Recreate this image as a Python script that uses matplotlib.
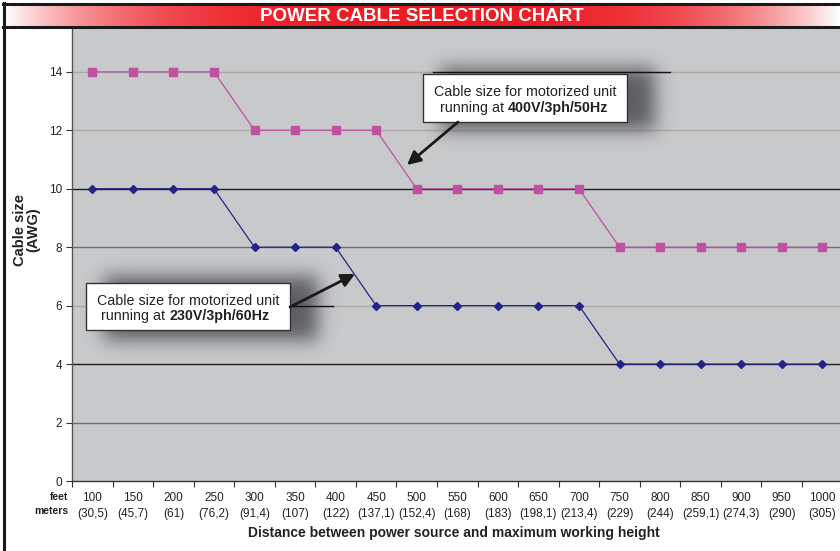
import numpy as np
import matplotlib
matplotlib.use('Agg')
import matplotlib.pyplot as plt
from matplotlib.patches import Rectangle

plt.rcParams['font.family'] = ['Liberation Sans', 'DejaVu Sans']

# ---------------- data ----------------
feet = ['100', '150', '200', '250', '300', '350', '400', '450', '500', '550',
        '600', '650', '700', '750', '800', '850', '900', '950', '1000']
meters = ['(30,5)', '(45,7)', '(61)', '(76,2)', '(91,4)', '(107)', '(122)', '(137,1)',
          '(152,4)', '(168)', '(183)', '(198,1)', '(213,4)', '(229)', '(244)', '(259,1)',
          '(274,3)', '(290)', '(305)']
awg_400v = [14, 14, 14, 14, 12, 12, 12, 12, 10, 10, 10, 10, 10, 8, 8, 8, 8, 8, 8]
awg_230v = [10, 10, 10, 10, 8, 8, 8, 6, 6, 6, 6, 6, 6, 4, 4, 4, 4, 4, 4]
y_ticks = [0, 2, 4, 6, 8, 10, 12, 14]
grid_levels = [2, 4, 6, 8, 10, 12, 14]
grid_colors = ['#6e6e6e', '#1e1e1e', '#a9a9a9', '#6e6e6e', '#1e1e1e', '#a9a9a9', '#a9a9a9']

title = 'POWER CABLE SELECTION CHART'
note_400 = ('Cable size for motorized unit', 'running at ', '400V/3ph/50Hz')
note_230 = ('Cable size for motorized unit', 'running at ', '230V/3ph/60Hz')

W, H = 840, 551
fig = plt.figure(figsize=(W / 100, H / 100), dpi=100)
fig.patch.set_facecolor('white')


def px(x0, y0, w, h):
    return [x0 / W, 1 - (y0 + h) / H, w / W, h / H]


# ---------------- main axes ----------------
ax = fig.add_axes(px(72, 28, 770.6, 453))
ax.set_facecolor('#C8C9CB')
x = np.arange(len(feet))
ax.set_xlim(-0.5, len(feet) - 0.5)
ax.set_ylim(0, 15.5)

for lvl, c in zip(grid_levels, grid_colors):
    ax.axhline(lvl, color=c, lw=1.0, zorder=1)

ax.plot(x, awg_400v, color='#C050A2', lw=0.9, marker='s', ms=5.2,
        mec='#C050A2', mfc='#C050A2', zorder=3)
ax.plot(x, awg_230v, color='#23238A', lw=0.9, marker='D', ms=3.8,
        mec='#23238A', mfc='#23238A', zorder=3)

for s in ['top', 'right']:
    ax.spines[s].set_visible(False)
ax.spines['left'].set_color('#555555')
ax.spines['bottom'].set_color('#333333')
ax.spines['left'].set_linewidth(1.0)
ax.spines['bottom'].set_linewidth(1.0)

ax.set_yticks(y_ticks)
ax.set_yticklabels([str(v) for v in y_ticks])
ax.tick_params(axis='y', direction='out', length=4, width=0.8, color='#333333',
               labelsize=8.5, labelcolor='#222222', pad=3)

ax.set_xticks(np.arange(-0.5, len(feet), 1.0))
ax.set_xticklabels([])
ax.tick_params(axis='x', which='major', direction='out', length=4, width=0.8, color='#333333')
ax.set_xticks(x, minor=True)
ax.set_xticklabels([f'{f}\n{m}' for f, m in zip(feet, meters)], minor=True)
ax.tick_params(axis='x', which='minor', length=0, labelsize=8.5, labelcolor='#222222', pad=8)
for lab in ax.get_xticklabels(minor=True):
    lab.set_linespacing(1.4)

fig.text(68 / W, 1 - 497 / H, 'feet', ha='right', va='center', fontsize=7.5,
         fontweight='bold', color='#222222')
fig.text(68 / W, 1 - 511 / H, 'meters', ha='right', va='center', fontsize=7.5,
         fontweight='bold', color='#222222')

fig.text(27 / W, 1 - 230 / H, 'Cable size\n(AWG)', rotation=90, ha='center', va='center',
         fontsize=10.5, fontweight='bold', color='#222222', linespacing=0.95)
fig.text(454 / W, 1 - 533 / H, 'Distance between power source and maximum working height',
         ha='center', va='center', fontsize=10, fontweight='bold', color='#222222')

# ---------------- title banner ----------------
bax = fig.add_axes(px(5, 5, 835, 22))
bax.axis('off')
t = np.linspace(-1, 1, 835)
f = np.clip(np.abs(t), 0, 1) ** 3.2
red = np.array([0.93, 0.11, 0.14])
white = np.array([1.0, 1.0, 1.0])
row = red[None, :] * (1 - f[:, None]) + white[None, :] * f[:, None]
bax.imshow(np.repeat(row[None, :, :], 2, axis=0), aspect='auto', extent=(0, 1, 0, 1))
fig.text(422 / W, 1 - 16.5 / H, title, ha='center', va='center', color='white',
         fontsize=13.5, fontweight='bold',
         family=['Liberation Sans Narrow', 'Liberation Sans', 'DejaVu Sans'])

# ---------------- overlay (shadows, notes, frame) ----------------
ov = fig.add_axes([0, 0, 1, 1], zorder=5)
ov.set_xlim(0, W)
ov.set_ylim(H, 0)
ov.axis('off')
ov.patch.set_alpha(0)

mask = np.zeros((H, W))
mask[68:130, 440:655] = 1.0
mask[276:340, 104:318] = 1.0
sig = 9
kx = np.arange(-3 * sig, 3 * sig + 1)
kern = np.exp(-0.5 * (kx / sig) ** 2)
kern /= kern.sum()
mask = np.apply_along_axis(lambda r: np.convolve(r, kern, mode='same'), 1, mask)
mask = np.apply_along_axis(lambda c: np.convolve(c, kern, mode='same'), 0, mask)
shadow = np.zeros((H, W, 4))
shadow[..., 0] = 0.26
shadow[..., 1] = 0.27
shadow[..., 2] = 0.29
shadow[..., 3] = np.clip(mask * 0.8, 0, 1)
ov.imshow(shadow, extent=(0, W, H, 0), interpolation='bilinear', zorder=1)

# dark gridline fragments
ov.plot([433, 670], [71.5, 71.5], color='#111111', lw=1.0, zorder=2)
ov.plot([290, 333], [305.5, 305.5], color='#111111', lw=1.0, zorder=2)


def note(x0, y0, w, h, lines, split):
    ov.add_patch(Rectangle((x0, y0), w, h, facecolor='white', edgecolor='#333333',
                           lw=1.0, zorder=3))
    cx = x0 + w / 2
    ov.text(cx, y0 + h * 0.38, lines[0], ha='center', va='center', fontsize=10.3,
            color='#222222', zorder=4)
    ov.text(split, y0 + h * 0.70, lines[1], ha='right', va='center', fontsize=10.3,
            color='#222222', zorder=4)
    ov.text(split, y0 + h * 0.70, lines[2], ha='left', va='center', fontsize=10.3,
            fontweight='bold', color='#222222', zorder=4)


note(423, 74, 204, 48, note_400, 508)
note(86, 283, 204, 47, note_230, 169)

arrow_kw = dict(arrowstyle='-|>', lw=2.0, color='#1a1a1a', mutation_scale=20,
                shrinkA=0, shrinkB=0)
ov.annotate('', xy=(407, 165), xytext=(458, 122), arrowprops=arrow_kw, zorder=4)
ov.annotate('', xy=(355, 274), xytext=(290, 307), arrowprops=arrow_kw, zorder=4)

# frame
ov.plot([4, 4], [3, H], color='#1a1a1a', lw=2.2, zorder=6)
ov.plot([3, W], [4, 4], color='#1a1a1a', lw=2.2, zorder=6)
ov.plot([3, W], [27, 27], color='#1a1a1a', lw=2.2, zorder=6)

fig.savefig('out.png', dpi=100)
